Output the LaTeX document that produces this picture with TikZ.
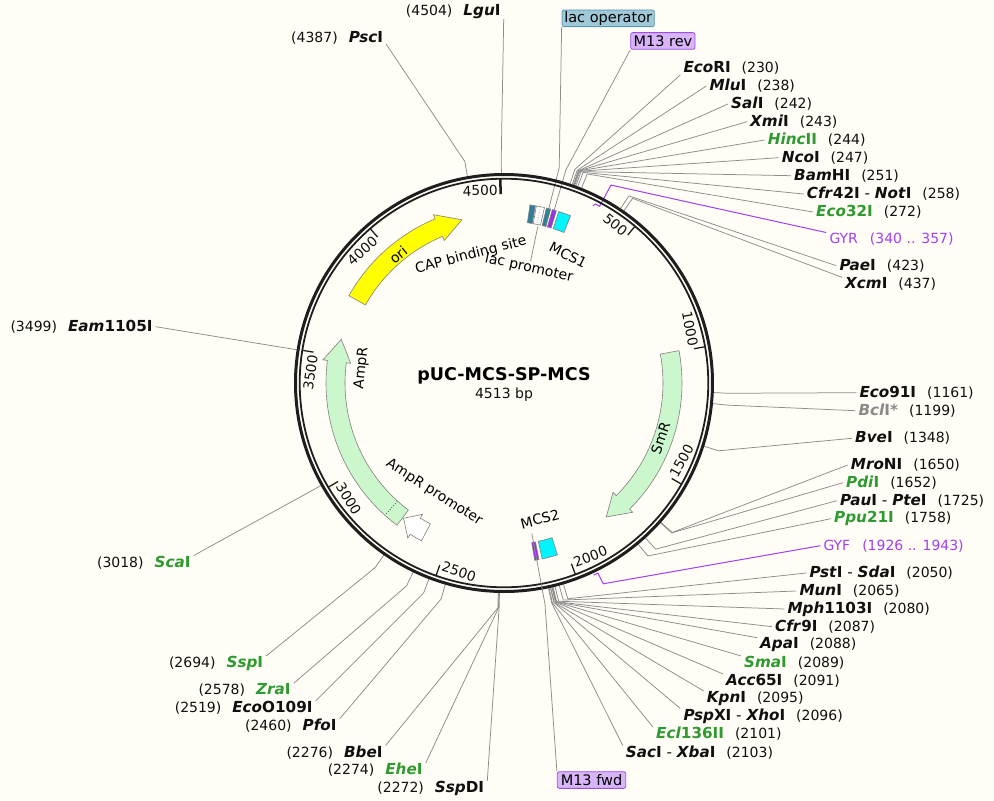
\documentclass[tikz,border=0pt]{standalone}
\usepackage{fontspec}
\setmainfont{DejaVu Sans}[BoldFont={DejaVu Sans Bold},ItalicFont={DejaVu Sans Oblique},BoldItalicFont={DejaVu Sans Bold Oblique}]
\definecolor{bg}{HTML}{FFFDF6}
\definecolor{ringc}{HTML}{1E1E1E}
\definecolor{rsl}{HTML}{8C8C8C}
\definecolor{enzgreen}{HTML}{2F9A2F}
\definecolor{enzgray}{HTML}{8A8A8A}
\definecolor{prim}{HTML}{A040F0}
\definecolor{oriyel}{HTML}{FFFF00}
\definecolor{mint}{HTML}{CCF7CC}
\definecolor{featedge}{HTML}{808080}
\definecolor{cyanf}{HTML}{00F5FF}
\definecolor{tealf}{HTML}{2F7F99}
\definecolor{purf}{HTML}{9A30E8}
\definecolor{lacbox}{HTML}{9FC9D8}
\definecolor{lacedge}{HTML}{5A98AC}
\definecolor{mbox}{HTML}{D8B4F8}
\definecolor{medge}{HTML}{A050E0}
\definecolor{numc}{HTML}{101010}
\newcommand{\enz}[2]{\textbf{\textit{#1}#2}}
\newcommand{\genz}[2]{\textcolor{enzgreen}{\enz{#1}{#2}}}
\newcommand{\nmf}{\fontsize{15.2}{18}\selectfont}
\newcommand{\rgf}{\fontsize{14}{17}\selectfont}
\newcommand{\tkf}{\fontsize{13.7}{16}\selectfont}
\newcommand{\bxf}{\fontsize{14.5}{17}\selectfont}
\newcommand{\labR}[5]{\node[lab,anchor=west] (#1) at ({#2-3},{#3}) {{\nmf #4}\hspace{11pt}(#5)};}
\newcommand{\labL}[5]{\node[lab,anchor=east] (#1) at ({#2+3},{#3}) {(#5)\hspace{11pt}{\nmf #4}};}
\newcommand{\rsite}[3]{\draw[rsline] ({90-0.0797696*#1}:210) -- ({90-0.0797696*#1}:225) -- (#2.#3);}
\newcommand{\fseg}[3]{\draw[feat,fill=#3] (#1:162) arc[start angle=#1,end angle=#2,radius=162] -- (#2:180) arc[start angle=#2,end angle=#1,radius=180] -- cycle;}
\newcommand{\tkT}[3]{\node[tickl,anchor=east,rotate={#2+0.8-90}] (#1) at ({#2+0.8}:193) {#3};}
\newcommand{\tkB}[3]{\node[tickl,anchor=west,rotate={#2+0.8+90}] (#1) at ({#2+0.8}:193) {#3};}
\begin{document}
\begin{tikzpicture}[x=1pt,y=1pt,
  lab/.style={inner xsep=3pt,inner ysep=0pt,text=numc,font=\rgf},
  rsline/.style={draw=rsl,line width=0.75pt},
  primer/.style={draw=prim,line width=1pt},
  feat/.style={draw=featedge,line width=0.6pt},
  tickl/.style={inner sep=0pt,font=\tkf,text=numc},
  flab/.style={inner sep=0pt,font=\rgf,text=black},
  boxlab/.style={inner sep=0pt,font=\bxf,text=black,rounded corners=2pt,line width=0.8pt,minimum height=16.7pt}]
\useasboundingbox (-504,-418) rectangle (490,383);
\fill[bg] (-504,-418) rectangle (490,383);
% ---------- labels in pixel coordinates ----------
\begin{scope}[shift={(-504,383)},yscale=-1]
\labR{eco}{683.3}{68.3}{\enz{Eco}{RI}}{230}
\labR{mlu}{709.3}{86}{\enz{Mlu}{I}}{238}
\labR{sal}{731}{104}{\enz{Sal}{I}}{242}
\labR{xmi}{750}{121.7}{\enz{Xmi}{I}}{243}
\labR{hinc}{767.7}{140}{\genz{Hinc}{II}}{244}
\labR{nco}{781.7}{157.7}{\enz{Nco}{I}}{247}
\labR{bam}{794}{175.7}{\enz{Bam}{HI}}{251}
\labR{cfr}{806.7}{194}{\enz{Cfr}{42I} - \enz{Not}{I}}{258}
\labR{ecot}{816}{212}{\genz{Eco}{32I}}{272}
\node[lab,anchor=west,text=prim] (gyr) at (826.3,239) {GYR\hspace{12pt}(340 .. 357)};
\labR{pae}{839.3}{265.7}{\enz{Pae}{I}}{423}
\labR{xcm}{845}{284}{\enz{Xcm}{I}}{437}
\labR{econ}{859.3}{392.7}{\enz{Eco}{91I}}{1161}
\labR{bcl}{858.3}{410.7}{\textcolor{enzgray}{\enz{Bcl}{I*}}}{1199}
\labR{bve}{855}{438.3}{\enz{Bve}{I}}{1348}
\labR{mro}{850.7}{465}{\enz{Mro}{NI}}{1650}
\labR{pdi}{846}{482.7}{\genz{Pdi}{I}}{1652}
\labR{pau}{840}{500.7}{\enz{Pau}{I} - \enz{Pte}{I}}{1725}
\labR{ppu}{834}{518.7}{\genz{Ppu}{21I}}{1758}
\node[lab,anchor=west,text=prim] (gyf) at (820.3,545.7) {GYF\hspace{12pt}(1926 .. 1943)};
\labR{pst}{809.3}{573}{\enz{Pst}{I} - \enz{Sda}{I}}{2050}
\labR{mun}{799.3}{591}{\enz{Mun}{I}}{2065}
\labR{mph}{787.3}{609}{\enz{Mph}{1103I}}{2080}
\labR{cfrn}{775}{626.7}{\enz{Cfr}{9I}}{2087}
\labR{apa}{760}{645}{\enz{Apa}{I}}{2088}
\labR{sma}{744}{662.7}{\genz{Sma}{I}}{2089}
\labR{acc}{726}{680.7}{\enz{Acc}{65I}}{2091}
\labR{kpn}{706.7}{698.3}{\enz{Kpn}{I}}{2095}
\labR{psp}{683.3}{716}{\enz{Psp}{XI} - \enz{Xho}{I}}{2096}
\labR{ecl}{656}{734}{\genz{Ecl}{136II}}{2101}
\labR{sac}{625.7}{752.3}{\enz{Sac}{I} - \enz{Xba}{I}}{2103}
\labL{lgu}{500.7}{11.7}{\enz{Lgu}{I}}{4504}
\labL{psc}{383.3}{37.7}{\enz{Psc}{I}}{4387}
\labL{eam}{152.7}{326.7}{\enz{Eam}{1105I}}{3499}
\labL{sca}{190.7}{562.3}{\genz{Sca}{I}}{3018}
\labL{ssp}{263.3}{663.3}{\genz{Ssp}{I}}{2694}
\labL{zra}{290.7}{690}{\genz{Zra}{I}}{2578}
\labL{ecoo}{312.7}{707.7}{\enz{Eco}{O109I}}{2519}
\labL{pfo}{336.7}{725.7}{\enz{Pfo}{I}}{2460}
\labL{bbe}{382.7}{752.3}{\enz{Bbe}{I}}{2276}
\labL{ehe}{422.7}{770}{\genz{Ehe}{I}}{2274}
\labL{sspd}{484.3}{788.3}{\enz{Ssp}{DI}}{2272}
\node[boxlab,fill=lacbox,draw=lacedge,minimum width=92.3pt] (lacop) at (608.2,18.3) {lac operator};
\node[boxlab,fill=mbox,draw=medge,minimum width=64.3pt] (mrev) at (662.9,41) {M13 rev};
\node[boxlab,fill=mbox,draw=medge,minimum width=68.4pt] (mfwd) at (591.5,780) {M13 fwd};
\end{scope}
% ---------- restriction site leaders ----------
\rsite{230}{eco}{south west}
\rsite{238}{mlu}{west}
\rsite{242}{sal}{west}
\rsite{243}{xmi}{west}
\rsite{244}{hinc}{west}
\rsite{247}{nco}{west}
\rsite{251}{bam}{west}
\rsite{258}{cfr}{west}
\rsite{272}{ecot}{west}
\rsite{423}{pae}{west}
\rsite{437}{xcm}{north west}
\rsite{1161}{econ}{west}
\rsite{1199}{bcl}{west}
\rsite{1348}{bve}{west}
\rsite{1650}{mro}{west}
\rsite{1652}{pdi}{west}
\rsite{1725}{pau}{west}
\rsite{1758}{ppu}{west}
\rsite{2050}{pst}{west}
\rsite{2065}{mun}{west}
\rsite{2080}{mph}{west}
\rsite{2087}{cfrn}{west}
\rsite{2088}{apa}{north west}
\rsite{2089}{sma}{north west}
\rsite{2091}{acc}{north west}
\rsite{2095}{kpn}{north west}
\rsite{2096}{psp}{north west}
\rsite{2101}{ecl}{north west}
\rsite{2103}{sac}{north west}
\rsite{4504}{lgu}{south east}
\rsite{4387}{psc}{south east}
\rsite{3499}{eam}{east}
\rsite{3018}{sca}{north east}
\rsite{2694}{ssp}{north east}
\rsite{2578}{zra}{north east}
\rsite{2519}{ecoo}{north east}
\rsite{2460}{pfo}{north east}
\rsite{2276}{bbe}{north east}
\rsite{2274}{ehe}{north east}
\rsite{2272}{sspd}{north east}
% primers
\draw[primer] (63.3:198.5) -- (62.9:201) arc[start angle=62.9,end angle=61.6,radius=201] -- (61.6:225) -- (gyr.north west);
\draw[primer] (-65.0:212) arc[start angle=-65.0,end angle=-63.7,radius=212] -- (-63.7:224) -- (gyf.west);
% feature leader lines
\draw[rsline] (75.6:180) -- (75.6:222) -- (lacop.south west);
\draw[rsline] (73.8:180) -- (73.8:222) -- (mrev.south west);
% ---------- ring ----------
\draw[ringc,line width=3pt] (0,0) circle[radius=208.5];
\draw[ringc,line width=1.8pt] (0,0) circle[radius=204.3];
\foreach \p in {500,1000,...,4000}{\draw[ringc,line width=1.3pt] ({90-0.0797696*\p}:193) -- ({90-0.0797696*\p}:204);}
\draw[ringc,line width=2.5pt] ({90-0.0797696*4500}:189) -- ({90-0.0797696*4500}:205);
\tkT{t500}{50.115}{500}
\tkT{t1000}{10.23}{1000}
\tkB{t1500}{-29.65}{1500}
\tkB{t2000}{-69.54}{2000}
\tkB{t2500}{-109.42}{2500}
\tkB{t3000}{-149.31}{3000}
\tkT{t3500}{170.81}{3500}
\tkT{t4000}{130.92}{4000}
\tkT{t4500}{91.04}{4500}
% ---------- features ----------
\draw[feat,fill=oriyel] (150.62:178) arc[start angle=150.62,end angle=112.74,radius=178] -- (112.74:182.5) -- (104.44:168.5) -- (112.74:154.5) -- (112.74:159) arc[start angle=112.74,end angle=150.62,radius=159] -- cycle;
\draw[feat,fill=mint] (10.47:178) arc[start angle=10.47,end angle=-45.1,radius=178] -- (-45.1:182.5) -- (-52.63:168.5) -- (-45.1:154.5) -- (-45.1:159) arc[start angle=-45.1,end angle=10.47,radius=159] -- cycle;
\draw[feat,fill=mint] (-126.97:178) arc[start angle=-126.97,end angle=-187.3,radius=178] -- (-187.3:182.5) -- (-195.02:168.5) -- (-187.3:154.5) -- (-187.3:159) arc[start angle=-187.3,end angle=-126.97,radius=159] -- cycle;
\draw[black,dotted,line width=0.6pt] (-132:159.5) -- (-132:177.5);
\draw[feat,fill=white] (-117.6:178) arc[start angle=-117.6,end angle=-121.8,radius=178] -- (-121.8:182.5) -- (-126.6:168.5) -- (-121.8:154.5) -- (-121.8:159) arc[start angle=-121.8,end angle=-117.6,radius=159] -- cycle;
\fseg{81.70}{79.95}{tealf}
\fseg{79.63}{77.0}{white}
\draw[featedge,dotted,line width=0.6pt] (78.3:163.5) -- (78.3:178.5);
\fseg{76.36}{75.0}{tealf}
\fseg{74.44}{73.09}{purf}
\fseg{72.29}{68.30}{cyanf}
\fseg{-72.73}{-77.76}{cyanf}
\fseg{-78.8}{-80.15}{purf}
\draw[rsline] (-79.5:153) -- (-79.5:225) -- (mfwd.north west);
% ---------- feature labels ----------
\node[flab,rotate=39.6] (lori) at (129.6:166) {ori};
\node[flab,rotate=14.5] (lcap) at (104.5:132) {CAP binding site};
\node[flab,rotate=-12.3] (llacp) at (77.7:117.7) {lac promoter};
\node[flab,rotate=-26.6] (lmcsa) at (63.4:143) {MCS1};
\node[flab,rotate=84] (lamp) at (174:143) {AmpR};
\node[flab,rotate=-32.5] (lampp) at (-122.5:130) {AmpR promoter};
\node[flab,rotate=70.6] (lsmr) at (-19.4:166) {SmR};
\node[flab,rotate=14.8] (lmcsb) at (-75.2:140.7) {MCS2};
\draw[rsline] (77.8:160) -- (llacp.north);
% ---------- title ----------
\node[inner sep=0pt,font=\fontsize{17.5}{20}\selectfont\bfseries] (title) at (0,7) {pUC-MCS-SP-MCS};
\node[inner sep=0pt,font=\rgf,text=numc] (bp) at (0,-12) {4513 bp};
\end{tikzpicture}
\end{document}
